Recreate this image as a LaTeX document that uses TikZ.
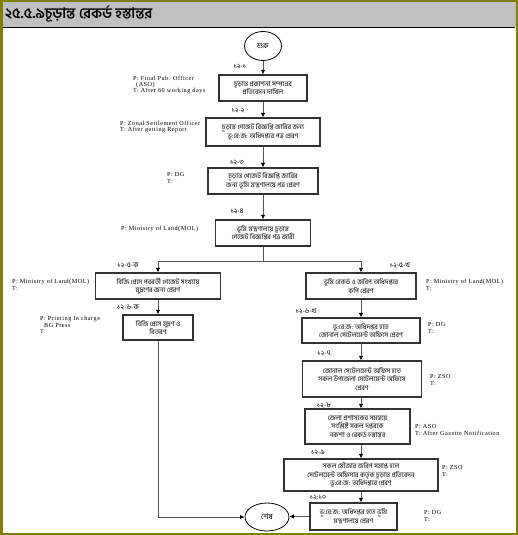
\documentclass[tikz,border=0pt]{standalone}
\usepackage{fontspec}
\setmainfont{Liberation Serif}
\newfontfamily\bn[Script=Bengali]{Hind Siliguri}
\newfontfamily\labfont[LetterSpace=8]{Liberation Serif}
\usetikzlibrary{arrows.meta,shapes.geometric}
\definecolor{olivec}{RGB}{128,128,0}
\definecolor{barc}{RGB}{192,192,192}
\definecolor{boxc}{RGB}{50,50,50}
\definecolor{linec}{RGB}{85,85,85}
\tikzset{
  box/.style={draw=boxc, line width=1.2pt, fill=white, inner sep=1pt, align=center,
    font=\bn\fontsize{6.7}{8.4}\selectfont},
  term/.style={draw=black, line width=0.8pt, ellipse, inner sep=0pt, font=\bn\fontsize{7.5}{8}\selectfont},
  num/.style={font=\bn\fontsize{7}{8}\selectfont, inner sep=0pt},
  ptlab/.style={anchor=west, align=left, inner sep=0pt, font=\labfont\fontsize{6.2}{6.3}\selectfont},
  conn/.style={draw=linec, line width=0.9pt},
  arr/.style={conn, -{Latex[length=4.5pt,width=4.5pt,color=black]}},
}
\begin{document}
\begin{tikzpicture}[x=1pt,y=-1pt]
\useasboundingbox (0,0) rectangle (518,535);
% frame and title bar
\fill[barc] (0,0) rectangle (518,27);
\draw[black, line width=1pt] (3,27.5) -- (515,27.5);
\draw[olivec, line width=2.5pt] (1.25,1.25) rectangle (516.75,533.75);
\node[anchor=west, inner sep=0pt, font=\bn\bfseries\fontsize{14.5}{15}\selectfont] (title) at (5,14) {২৫.৫.৯চূড়ান্ত রেকর্ড হস্তান্তর};

% terminals
\node[term, minimum width=37pt, minimum height=29pt] (start) at (263,46) {শুরু};
\node[term, minimum width=44pt, minimum height=28pt] (endn) at (267,517) {শেষ};

% main boxes
\node[box, minimum width=88pt, minimum height=26pt] (b1) at (263,88) {চূড়ান্ত প্রকাশনা সম্পন্নের\\প্রতিবেদন দাখিল};
\node[box, minimum width=114pt, minimum height=28pt] (b2) at (263,132) {চূড়ান্ত গেজেট বিজ্ঞপ্তি জারির জন্য\\ভূ:রে:জ: অধিদপ্তরে পত্র প্রেরণ};
\node[box, minimum width=110pt, minimum height=26pt] (b3) at (263,181) {চূড়ান্ত গেজেট বিজ্ঞপ্তি জারির\\জন্য ভূমি মন্ত্রণালয়ে পত্র প্রেরণ};
\node[box, minimum width=95pt, minimum height=26pt] (b4) at (263,233) {ভূমি মন্ত্রণালয়ে চূড়ান্ত\\গেজেট বিজ্ঞপ্তির পত্র জারী};
\node[box, minimum width=125pt, minimum height=26pt] (b5a) at (158,286) {বিজি প্রেসে পরবর্তী গেজেট সংখ্যায়\\মুদ্রণের জন্য প্রেরণ};
\node[box, minimum width=70pt, minimum height=25pt] (b6a) at (158,327.5) {বিজি প্রেসে মুদ্রণ ও\\বিতরণ};
\node[box, minimum width=110pt, minimum height=26pt] (b5b) at (361,286) {ভূমি রেকর্ড ও জরিপ অধিদপ্তরে\\কপি প্রেরণ};
\node[box, minimum width=118pt, minimum height=25pt] (b6b) at (361,330.5) {ভূ:রে:জ: অধিদপ্তর হতে\\জোনাল সেটেলমেন্ট অফিসে প্রেরণ};
\node[box, minimum width=119pt, minimum height=36pt] (b7) at (362,379) {জোনাল সেটেলমেন্ট অফিস হতে\\সকল উপজেলা সেটেলমেন্ট অফিসে\\প্রেরণ};
\node[box, minimum width=105pt, minimum height=35pt] (b8) at (357.5,426.5) {জেলা প্রশাসকের সমন্বয়ে\\সংশ্লিষ্ট সকল দপ্তরকে\\নকশা ও রেকর্ড হস্তান্তর};
\node[box, minimum width=154pt, minimum height=32pt] (b9) at (361,475) {সকল মৌজার জরিপ সমাপ্ত হলে\\সেটেলমেন্ট অফিসার কর্তৃক চূড়ান্ত প্রতিবেদন\\ভূ:রে:জ: অধিদপ্তরে প্রেরণ};
\node[box, minimum width=87pt, minimum height=27pt] (b10) at (353.5,516.5) {ভূ:রে:জ: অধিদপ্তর হতে ভূমি\\মন্ত্রণালয়ে প্রেরণ};

% step numbers
\node[num] (n1) at (240,67) {১২-১};
\node[num] (n2) at (238,111) {১২-২};
\node[num] (n3) at (237,162) {১২-৩};
\node[num] (n4) at (237,211) {১২-৪};
\node[num] (n5a) at (128,265) {১২-৫-ক};
\node[num] (n6a) at (128,307) {১২-৬-ক};
\node[num] (n5b) at (400,265) {১২-৫-খ};
\node[num] (n6b) at (306,311) {১২-৬-খ};
\node[num] (n7) at (324,353) {১২-৭};
\node[num] (n8) at (324,405) {১২-৮};
\node[num] (n9) at (318,452) {১২-৯};
\node[num] (n10) at (318,497) {১২:১০};

% P/T labels
\node[ptlab] (p1) at (133,85) {P: Final Pub. Officer\\\hspace*{3pt}(ASO)\\T: After 60 working days};
\node[ptlab] (p2) at (120,127) {P: Zonal Settlement Officer\\T: After getting Report};
\node[ptlab] (p3) at (167,178) {P: DG\\T:};
\node[ptlab] (p4) at (121,229) {P: Ministry of Land(MOL)};
\node[ptlab] (p5a) at (12,285) {P: Ministry of Land(MOL)\\T:};
\node[ptlab] (p6a) at (40,325) {P: Printing In charge\\\hspace*{4pt}BG Press\\T:};
\node[ptlab] (p5b) at (426,285) {P: Ministry of Land(MOL)\\T:};
\node[ptlab] (p6b) at (428,328) {P: DG\\T:};
\node[ptlab] (p7) at (430,380) {P: ZSO\\T:};
\node[ptlab] (p8) at (415,430) {P: ASO\\T: After Gazette Notification};
\node[ptlab] (p9) at (442,471) {P: ZSO\\T:};
\node[ptlab] (p10) at (424,516) {P: DG\\T:};

% connectors
\coordinate (split) at (263,261);
\coordinate (jl) at (158,261);
\coordinate (jr) at (361,261);
\draw[arr] (start) -- (b1);
\draw[arr] (b1) -- (b2);
\draw[arr] (b2) -- (b3);
\draw[arr] (b3) -- (b4);
\draw[conn] (b4) -- (split);
\draw[conn] (jl) -- (jr);
\draw[arr] (jl) -- (b5a);
\draw[arr] (jr) -- (b5b);
\draw[arr] (b5a) -- (b6a);
\draw[arr] (b5b) -- (b6b);
\draw[arr] (b6b.south -| jr) -- (b7.north -| jr);
\draw[arr] (b7.south -| jr) -- (b8.north -| jr);
\draw[arr] (b8.south -| jr) -- (b9.north -| jr);
\draw[arr] (b9.south -| jr) -- (b10.north -| jr);
\draw[arr] (b6a.south) |- (endn.west);
\draw[arr] (b10.west) -- (b10.west -| endn.east);
\end{tikzpicture}
\end{document}
